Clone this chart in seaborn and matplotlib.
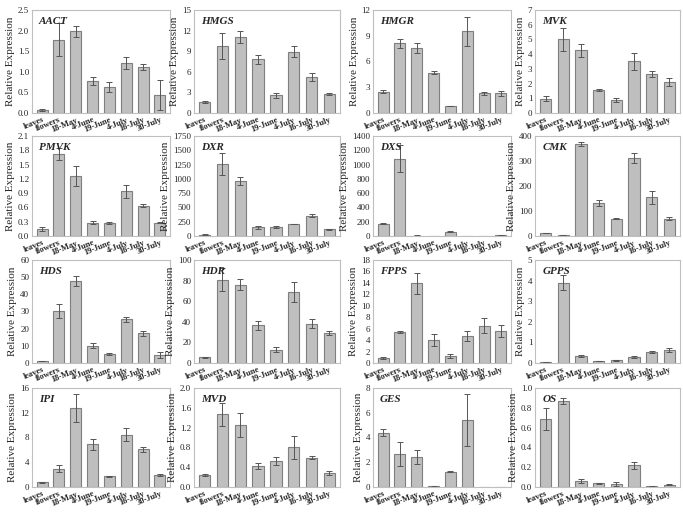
import numpy as np
import pandas as pd
import matplotlib
matplotlib.use('Agg')
import matplotlib.pyplot as plt
import seaborn as sns

# muestras
samples = ['leaves', 'flowers', '18-May', '4-June', '19-June', '4-July', '16-July', '30-July']

genes = ['AACT', 'HMGS', 'HMGR', 'MVK',
         'PMVK', 'DXR', 'DXS', 'CMK',
         'HDS', 'HDR', 'FPPS', 'GPPS',
         'IPI', 'MVD', 'GES', 'OS']

# expresion relativa (media) por gen
aact = [0.07, 1.78, 1.98, 0.78, 0.63, 1.22, 1.12, 0.44]
hmgs = [1.6, 9.8, 11.1, 7.8, 2.6, 8.9, 5.2, 2.75]
hmgr = [2.5, 8.1, 7.6, 4.7, 0.85, 9.5, 2.3, 2.3]
mvk = [0.97, 5.0, 4.25, 1.58, 0.9, 3.5, 2.65, 2.1]
pmvk = [0.15, 1.72, 1.27, 0.28, 0.27, 0.94, 0.64, 0.28]
dxr = [25, 1260, 960, 155, 155, 210, 355, 115]
dxs = [170, 1080, 5, 3, 60, 0.5, 2, 8]
cmk = [12, 4, 368, 133, 69, 312, 154, 69]
hds = [1.2, 30.3, 47.7, 10.0, 5.2, 25.5, 17.2, 4.8]
hdr = [5.5, 81, 76, 36.5, 13, 69, 38, 29]
fpps = [0.85, 5.4, 13.9, 4.0, 1.2, 4.75, 6.5, 5.6]
gpps = [0.04, 3.9, 0.33, 0.1, 0.14, 0.3, 0.53, 0.62]
ipi = [0.75, 2.95, 12.8, 6.9, 1.7, 8.45, 6.1, 1.95]
mvd = [0.24, 1.47, 1.25, 0.42, 0.53, 0.8, 0.59, 0.29]
ges = [4.4, 2.65, 2.42, 0.05, 1.25, 5.45, 0.03, 0.01]
os_ = [0.69, 0.87, 0.06, 0.04, 0.03, 0.22, 0.01, 0.025]

# desviaciones
aact_sd = [0.03, 0.4, 0.13, 0.09, 0.12, 0.14, 0.08, 0.37]
hmgs_sd = [0.1, 1.9, 0.9, 0.6, 0.35, 0.8, 0.6, 0.2]
hmgr_sd = [0.15, 0.55, 0.6, 0.2, 0.02, 1.7, 0.2, 0.3]
mvk_sd = [0.17, 0.8, 0.45, 0.06, 0.12, 0.6, 0.2, 0.25]
pmvk_sd = [0.04, 0.12, 0.21, 0.03, 0.02, 0.14, 0.04, 0.01]
dxr_sd = [5, 190, 65, 25, 12, 8, 25, 15]
dxs_sd = [8, 190, 2, 1, 8, 0.2, 0.5, 1]
cmk_sd = [1, 1, 8, 12, 3, 20, 25, 7]
hds_sd = [0.2, 3.8, 2.8, 1.5, 0.5, 1.5, 1.6, 1.7]
hdr_sd = [0.8, 11, 5.5, 4, 2.5, 10, 4.5, 2]
fpps_sd = [0.15, 0.2, 1.8, 1.0, 0.3, 0.9, 1.3, 1.0]
gpps_sd = [0.01, 0.35, 0.05, 0.02, 0.02, 0.05, 0.04, 0.1]
ipi_sd = [0.05, 0.6, 2.3, 0.9, 0.05, 1.05, 0.4, 0.1]
mvd_sd = [0.02, 0.23, 0.24, 0.06, 0.08, 0.24, 0.03, 0.04]
ges_sd = [0.3, 0.95, 0.55, 0.02, 0.07, 2.1, 0.01, 0.005]
os_sd = [0.11, 0.03, 0.02, 0.005, 0.02, 0.035, 0.005, 0.005]

means = [aact, hmgs, hmgr, mvk, pmvk, dxr, dxs, cmk,
         hds, hdr, fpps, gpps, ipi, mvd, ges, os_]
sds = [aact_sd, hmgs_sd, hmgr_sd, mvk_sd, pmvk_sd, dxr_sd, dxs_sd, cmk_sd,
       hds_sd, hdr_sd, fpps_sd, gpps_sd, ipi_sd, mvd_sd, ges_sd, os_sd]

# limites y paso del eje y
ymax = [2.5, 15, 12, 7, 2.1, 1750, 1400, 400, 60, 100, 18, 5, 16, 2.0, 8, 1.0]
ystep = [0.5, 3, 3, 1, 0.3, 250, 200, 100, 10, 20, 2, 1, 4, 0.4, 2, 0.2]
ydec = [1, 0, 0, 0, 1, 0, 0, 0, 0, 0, 0, 0, 0, 1, 0, 1]

sns.set_style('white')
plt.rcParams['font.family'] = ['Liberation Serif', 'DejaVu Serif']

fig = plt.figure(figsize=(6.83, 5.14), dpi=100)
W, H = 683, 514
lefts = [32, 194, 373, 535]
rights = [170, 340, 511, 680]
tops = [10, 136, 260, 388]
bottoms = [113, 236, 363, 487]

for i, gene in enumerate(genes):
    r, c = divmod(i, 4)
    ax = fig.add_axes([lefts[c] / W, 1 - bottoms[r] / H,
                       (rights[c] - lefts[c]) / W, (bottoms[r] - tops[r]) / H])
    df = pd.DataFrame({'sample': samples, 'expr': means[i]})
    sns.barplot(data=df, x='sample', y='expr', color='#bfbfbf', width=0.65,
                edgecolor='#7f7f7f', linewidth=0.8, saturation=1, ax=ax)
    ax.errorbar(np.arange(len(samples)), means[i], yerr=sds[i], fmt='none',
                ecolor='#555555', elinewidth=0.7, capsize=2, capthick=0.7)
    ax.set_ylim(0, ymax[i])
    ticks = np.arange(0, ymax[i] + ystep[i] / 2, ystep[i])
    ax.set_yticks(ticks)
    ax.set_yticklabels([f'{t:.{ydec[i]}f}' for t in ticks], fontsize=6.5)
    ax.set_xlim(-0.6, 7.6)
    ax.set_xticks(np.arange(len(samples)))
    ax.set_xticklabels(samples, rotation=22, ha='right', rotation_mode='anchor',
                       fontsize=6, fontweight='bold')
    ax.tick_params(axis='both', length=0, pad=2)
    ax.set_xlabel('')
    if c == 0:
        ax.set_ylabel('Relative Expression', fontsize=8, labelpad=2)
    else:
        ax.set_ylabel('Relative Expression', fontsize=8, labelpad=2)
    for s in ax.spines.values():
        s.set_color('#bfbfbf')
        s.set_linewidth(0.8)
    ax.text(0.05, 0.93, gene, transform=ax.transAxes, fontsize=8,
            fontweight='bold', fontstyle='italic', va='top', ha='left')

fig.savefig('out.png', dpi=100)
